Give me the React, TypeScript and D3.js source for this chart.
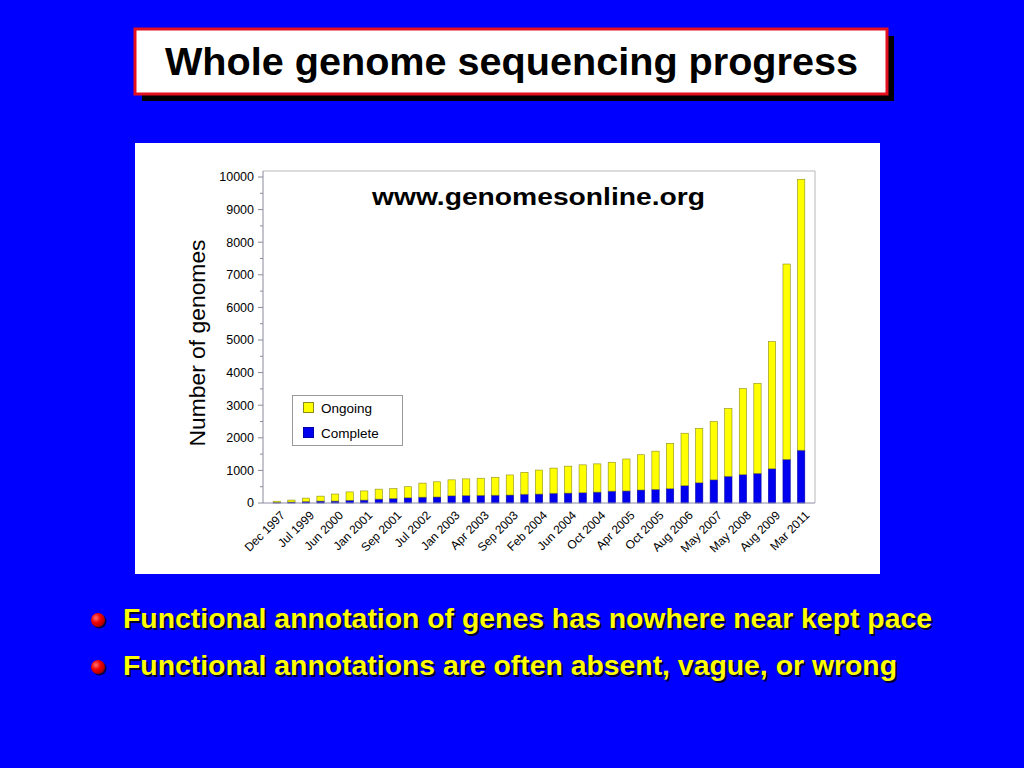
import React from "react";
import * as d3 from "d3";

// x categories (label only every other bar, as in the source)
const dates = [
  "Dec 1997", "", "Jul 1999", "", "Jun 2000", "", "Jan 2001", "", "Sep 2001", "",
  "Jul 2002", "", "Jan 2003", "", "Apr 2003", "", "Sep 2003", "", "Feb 2004", "",
  "Jun 2004", "", "Oct 2004", "", "Apr 2005", "", "Oct 2005", "", "Aug 2006", "",
  "May 2007", "", "May 2008", "", "Aug 2009", "", "Mar 2011",
];

// genome counts
const totalGenomes = [
  55, 90, 150, 210, 275, 340, 370, 425, 440, 500,
  610, 650, 710, 740, 760, 790, 860, 940, 1010, 1070,
  1130, 1170, 1200, 1250, 1350, 1480, 1590, 1830, 2140, 2290,
  2500, 2900, 3510, 3670, 4950, 7330, 9930,
];
const completeGenomes = [
  20, 30, 45, 60, 60, 85, 90, 120, 140, 160,
  180, 185, 220, 230, 235, 240, 245, 270, 275, 300,
  305, 315, 335, 365, 370, 400, 420, 440, 530, 620,
  710, 820, 870, 910, 1050, 1340, 1620,
];

const yTicks = [0, 1000, 2000, 3000, 4000, 5000, 6000, 7000, 8000, 9000, 10000];
const bullets = [
  "Functional annotation of genes has nowhere near kept pace",
  "Functional annotations are often absent, vague, or wrong",
];
const bulletWidths = [809, 774];

const W = 1024;
const H = 768;
const plot = { left: 263, right: 815, top: 171, bottom: 503 };

const App: React.FC = () => {
  const rows = dates.map((d, i) => ({
    idx: i,
    complete: completeGenomes[i],
    ongoing: totalGenomes[i] - completeGenomes[i],
  }));
  const stack = d3.stack<(typeof rows)[number]>().keys(["complete", "ongoing"]);
  const series = stack(rows);

  const x = d3
    .scaleBand<number>()
    .domain(rows.map((r) => r.idx))
    .range([plot.left, plot.right])
    .paddingInner(0.5)
    .paddingOuter(0.7);

  const y = d3.scaleLinear().domain([0, 10000]).range([plot.bottom, 177]);
  const minorTicks = d3.range(500, 10000, 1000);

  const fills = ["#0000ee", "#ffff00"];
  const strokes = ["#0000aa", "#8c8c1a"];

  return (
    <div style={{ position: "absolute", left: 0, top: 0 }}>
      <svg width={W} height={H} style={{ display: "block" }} fontFamily="'Liberation Sans', Arial, sans-serif">
        <defs>
          <radialGradient id="ball" cx="35%" cy="35%" r="70%">
            <stop offset="0%" stopColor="#ff7070" />
            <stop offset="50%" stopColor="#f00000" />
            <stop offset="100%" stopColor="#a00000" />
          </radialGradient>
        </defs>
        <rect width={W} height={H} fill="#0000ff" />

        {/* title box */}
        <rect x={142} y={36} width={752} height={65} fill="#000000" />
        <rect x={135} y={29} width={752} height={65} fill="#ffffff" stroke="#e3101e" strokeWidth={3} />
        <text x={165} y={75} fontSize={39} fontWeight="bold" fill="#000" textLength={693} lengthAdjust="spacingAndGlyphs">
          Whole genome sequencing progress
        </text>

        {/* chart panel */}
        <rect x={135} y={143} width={745} height={431} fill="#ffffff" />

        {/* plot frame */}
        <line x1={plot.left} x2={plot.right} y1={plot.top} y2={plot.top} stroke="#b8b8b8" />
        <line x1={plot.right} x2={plot.right} y1={plot.top} y2={plot.bottom} stroke="#b8b8b8" />

        {/* bars */}
        {series.map((s, si) => (
          <g key={s.key}>
            {s.map((d, i) => (
              <rect
                key={i}
                x={x(rows[i].idx)}
                width={x.bandwidth()}
                y={y(d[1])}
                height={Math.max(0, y(d[0]) - y(d[1]))}
                fill={fills[si]}
                stroke={strokes[si]}
                strokeWidth={0.6}
              />
            ))}
          </g>
        ))}

        {/* axes */}
        <line x1={plot.left} x2={plot.left} y1={plot.top} y2={plot.bottom} stroke="#8a8a9a" />
        <line x1={plot.left} x2={plot.right} y1={plot.bottom} y2={plot.bottom} stroke="#8a8aa8" />
        {yTicks.map((t) => (
          <g key={t}>
            <line x1={plot.left - 5} x2={plot.left} y1={y(t)} y2={y(t)} stroke="#8a8a9a" />
            <text x={plot.left - 9} y={y(t)} dy="0.35em" textAnchor="end" fontSize={12.5} fill="#000">
              {t}
            </text>
          </g>
        ))}
        {minorTicks.map((t) => (
          <line key={t} x1={plot.left - 3} x2={plot.left} y1={y(t)} y2={y(t)} stroke="#8a8a9a" />
        ))}
        {rows.map((r) =>
          dates[r.idx] ? (
            <text
              key={r.idx}
              transform={`translate(${(x(r.idx) ?? 0) + x.bandwidth() / 2 + 6},${plot.bottom + 10}) rotate(-45)`}
              textAnchor="end"
              dy="0.35em"
              fontSize={12}
              fill="#000"
            >
              {dates[r.idx]}
            </text>
          ) : null
        )}

        {/* y label */}
        <text
          transform="translate(205,343) rotate(-90)"
          textAnchor="middle"
          fontSize={22}
          fill="#000"
          textLength={207}
          lengthAdjust="spacingAndGlyphs"
        >
          Number of genomes
        </text>

        {/* source url */}
        <text x={372} y={205} fontSize={23} fontWeight="bold" fill="#000" textLength={333} lengthAdjust="spacingAndGlyphs">
          www.genomesonline.org
        </text>

        {/* legend */}
        <rect x={292.5} y={395.5} width={110} height={50} fill="#fff" stroke="#999" />
        <rect x={303.5} y={402.5} width={10} height={10} fill="#ffff00" stroke="#8c8c1a" />
        <text x={321} y={413} fontSize={13.5} fill="#000">Ongoing</text>
        <rect x={303.5} y={427.5} width={10} height={10} fill="#0000ee" stroke="#0000aa" />
        <text x={321} y={438} fontSize={13.5} fill="#000">Complete</text>

        {/* bullets */}
        {bullets.map((b, i) => (
          <g key={i}>
            <circle cx={99.5} cy={621.5 + i * 47} r={7} fill="#000050" />
            <circle cx={98} cy={620 + i * 47} r={7} fill="url(#ball)" />
            <text x={125} y={630 + i * 47} fontSize={27} fontWeight="bold" fill="#000033"
              textLength={bulletWidths[i]} lengthAdjust="spacingAndGlyphs">
              {b}
            </text>
            <text x={123} y={628 + i * 47} fontSize={27} fontWeight="bold" fill="#ffff00"
              textLength={bulletWidths[i]} lengthAdjust="spacingAndGlyphs">
              {b}
            </text>
          </g>
        ))}
      </svg>
    </div>
  );
};

export default App;
